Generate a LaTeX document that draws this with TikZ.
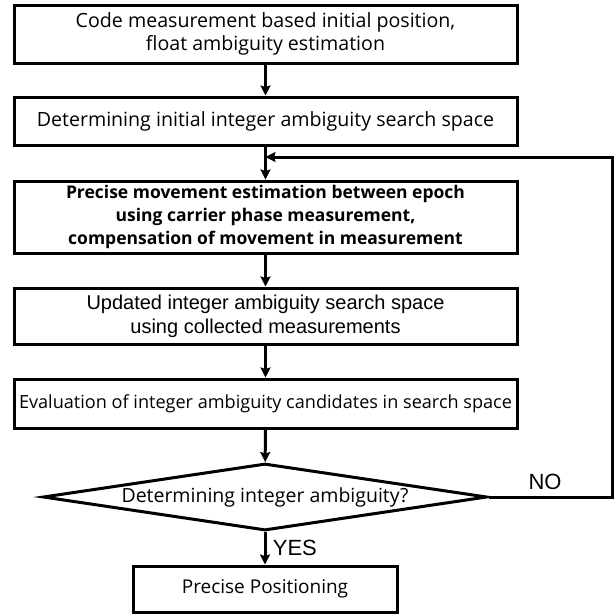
\documentclass[tikz,border=0pt]{standalone}
\RequirePackage{fontspec}
\RequirePackage{tikz}
\usetikzlibrary{arrows.meta}
\usetikzlibrary{shapes.geometric}
\setmainfont{Open Sans}
\newfontfamily\arialfont{Liberation Sans}
\begin{document}
\begin{tikzpicture}[x=1pt,y=-1pt,
                        >={Stealth[length=10pt,width=10pt,inset=1.5pt]},
                        line width=3pt,
                        stepbox/.style={draw,rectangle,inner sep=0pt,minimum width=503pt,
                            align=center,font=\fontsize{19.6}{23}\selectfont},
                        decbox/.style={draw,diamond,aspect=6.6,inner sep=0pt,minimum width=444pt,
                            minimum height=67pt,font=\fontsize{19.5}{23}\selectfont},
                        lbl/.style={font=\arialfont\fontsize{22}{24}\selectfont}]
                        \useasboundingbox (0,0) rectangle (614,616);
                        \node[stepbox,minimum height=58pt] (init) at (265.5,34)
                            {Code measurement based initial position,\\float ambiguity estimation};
                        \node[stepbox,minimum height=48pt] (space) at (265.5,121)
                            {Determining initial integer ambiguity search space};
                        \node[stepbox,minimum height=72pt,font=\bfseries\fontsize{17.5}{23}\selectfont] (move) at (265.5,217)
                            {Precise movement estimation between epoch\\using carrier phase measurement,\\compensation of movement in measurement};
                        \node[stepbox,minimum height=56pt,font=\arialfont\fontsize{20}{24}\selectfont] (update) at (265.5,316)
                            {Updated integer ambiguity search space\\using collected measurements};
                        \node[stepbox,minimum height=49pt,font=\fontsize{18.1}{23}\selectfont] (eval) at (265.5,403.5)
                            {Evaluation of integer ambiguity candidates in search space};
                        \node[decbox] (fix) at (265,497) {Determining integer ambiguity?};
                        \node[stepbox,minimum width=264pt,minimum height=46pt,font=\fontsize{19}{23}\selectfont] (pos) at (265,589)
                            {Precise Positioning};
                        \coordinate (loop) at (612,157);
                        \draw[->] (init) -- (space);
                        \draw[->] (space) -- (move);
                        \draw[->] (move) -- (update);
                        \draw[->] (update) -- (eval);
                        \draw[->] (eval) -- (fix);
                        \draw[->] (fix) -- (pos) node[lbl,midway,right=3pt] {YES};
                        \draw[->] (fix.east) -- (loop |- fix.east) -- (loop) -- (space.south |- loop);
                        \node[lbl] (no) at (545,482) {NO};
                    \end{tikzpicture}
\end{document}
